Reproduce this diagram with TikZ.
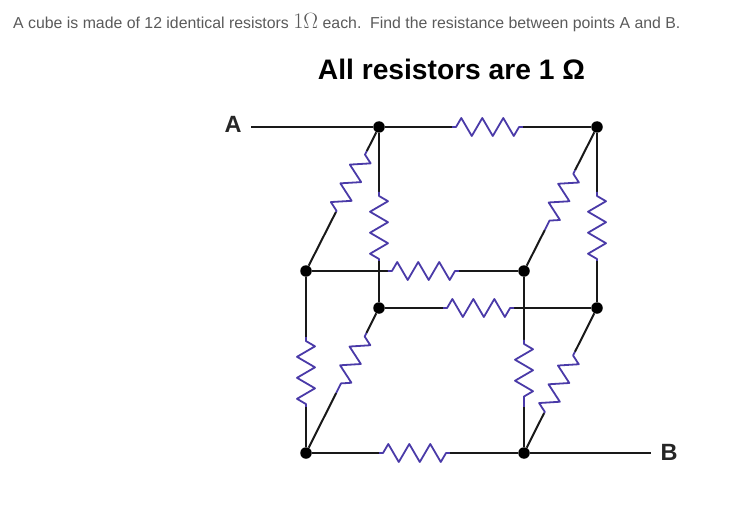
\documentclass[tikz,border=0pt]{standalone}
\usepackage{fontspec}
\setmainfont{Liberation Sans}
\usetikzlibrary{calc, decorations.pathmorphing}
\definecolor{resblue}{HTML}{4A3AA8}
\definecolor{textgray}{HTML}{5A5A5A}

% wire from a to b, with a resistor between the two fractions
\newcommand{\resistor}[4]{%
	\draw[wire] (#1) -- ($(#1)!#3!(#2)$);
	\draw[wire] ($(#1)!#4!(#2)$) -- (#2);
	\draw[res] ($(#1)!#3!(#2)$) -- ($(#1)!#4!(#2)$);
}

\begin{document}
\begin{tikzpicture}[x=1pt, y=-1pt]
		
		% Define styles
		\tikzstyle{wire} = [black!90, line width=2pt]
		\tikzstyle{res} = [resblue, line width=1.8pt, line join=round, decorate, decoration={zigzag, segment length=21pt, amplitude=9pt, pre=lineto, pre length=4pt, post=lineto, post length=1pt}]
		\tikzstyle{dot} = [circle, fill=black, inner sep=0pt, minimum size=11.5pt]
		\tikzstyle{term} = [font=\bfseries\fontsize{23.5}{24}\selectfont, text=black!85]
		
		\useasboundingbox (0,0) rectangle (747,508);
		
		% Texts
		\node[anchor=base west, inner sep=0pt, text=textgray, font=\fontsize{15.85}{18}\selectfont] (question) at (13,28.5) {A cube is made of 12 identical resistors \scalebox{1.28}{$1\Omega$} each.\ \ Find the resistance between points A and B.};
		\node[inner sep=0pt, text=black, font=\bfseries\fontsize{28.2}{32}\selectfont] (title) at (451.5,69) {All resistors are 1 Ω};
		
		% Nodes
		\node[dot] (backTL) at (379,127) {};
		\node[dot] (backTR) at (597,127) {};
		\node[dot] (frontTL) at (306,271) {};
		\node[dot] (frontTR) at (524,271) {};
		\node[dot] (backBL) at (379,308) {};
		\node[dot] (backBR) at (597,308) {};
		\node[dot] (frontBL) at (306,453) {};
		\node[dot] (frontBR) at (524,453) {};
		
		\node[term] (A) at (233,124.5) {A};
		\node[term] (B) at (669,452.5) {B};
		\coordinate (wireA) at (251,127);
		\coordinate (wireB) at (651,453);
		
		% Leads
		\draw[wire] (wireA) -- (backTL);
		\draw[wire] (frontBR) -- (wireB);
		
		% Horizontal resistors
		\resistor{backTL}{backTR}{.335}{.66}
		\resistor{backBL}{backBR}{.294}{.62}
		\resistor{frontTL}{frontTR}{.376}{.702}
		\resistor{frontBL}{frontBR}{.335}{.66}
		
		% Vertical resistors
		\resistor{backTL}{backBL}{.359}{.74}
		\resistor{backTR}{backBR}{.359}{.74}
		\resistor{frontTL}{frontBL}{.363}{.747}
		\resistor{frontTR}{frontBR}{.379}{.747}
		
		% Slanted resistors
		\resistor{backTL}{frontTL}{.167}{.59}
		\resistor{backTR}{frontTR}{.30}{.715}
		\resistor{backBL}{frontBL}{.172}{.586}
		\resistor{backBR}{frontBR}{.303}{.724}
		
	\end{tikzpicture}
\end{document}
